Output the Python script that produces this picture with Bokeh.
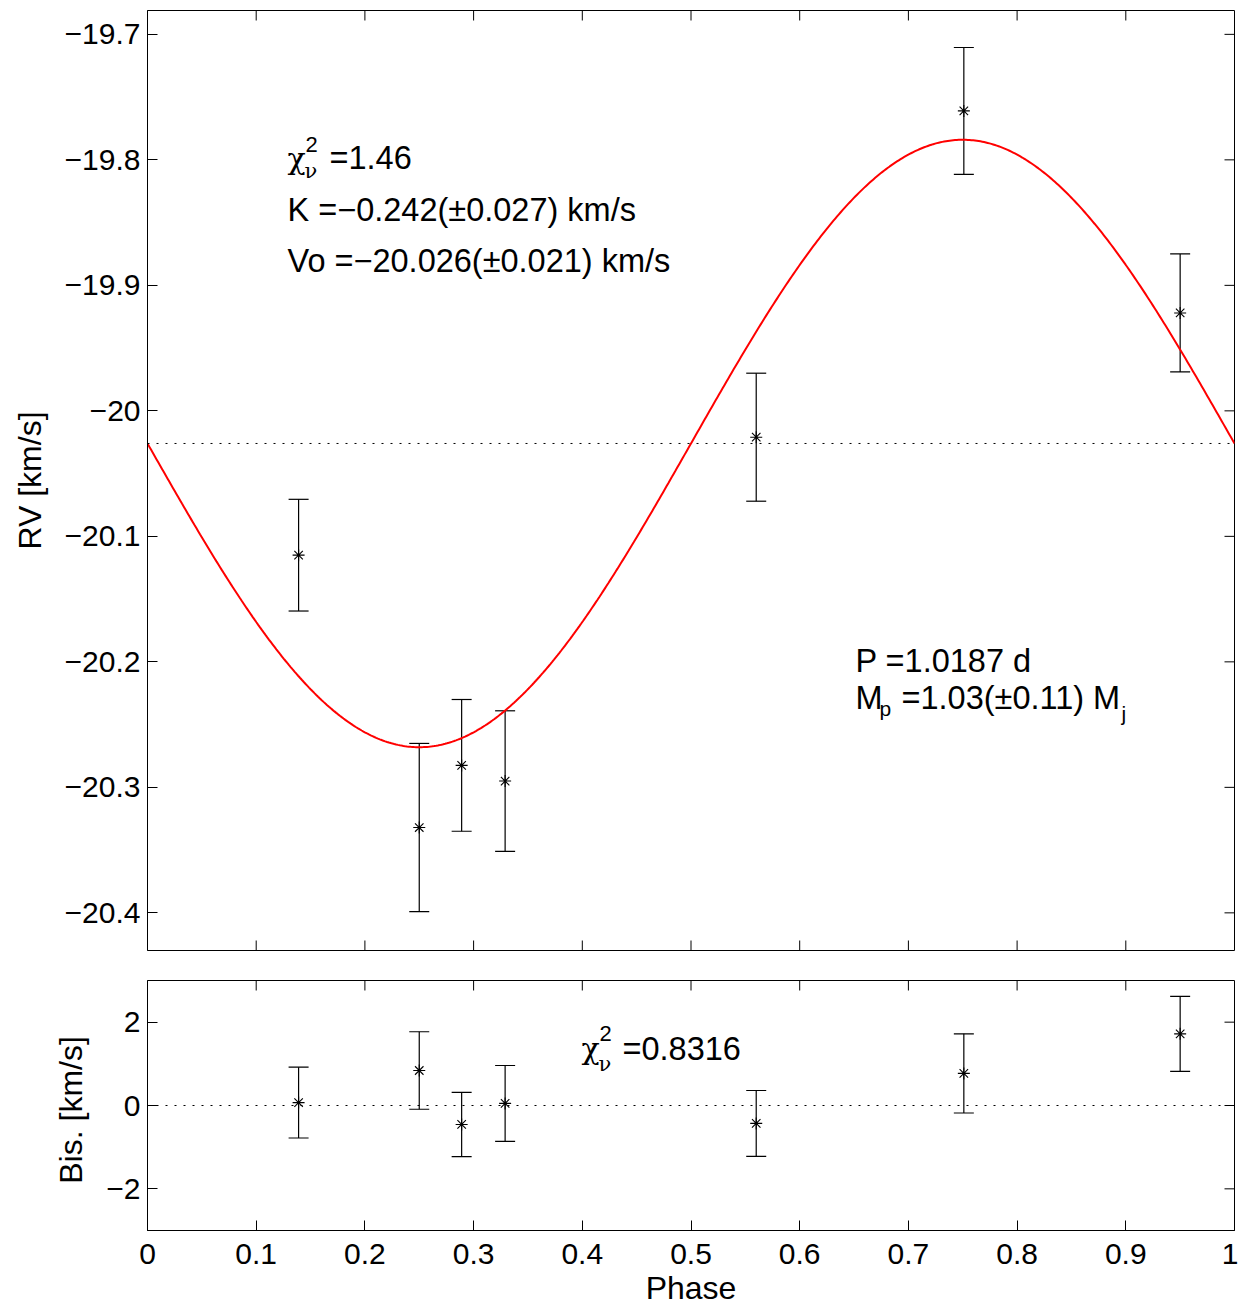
import numpy as np
from bokeh.plotting import figure
from bokeh.models import (ColumnDataSource, Whisker, Span, Label, LinearAxis,
                          FixedTicker, Range1d, TeeHead)
from bokeh.layouts import column
from bokeh.embed import file_html
from bokeh.resources import INLINE

# ---------------- data ----------------
phase = [0.139, 0.250, 0.289, 0.329, 0.560, 0.751, 0.950]
rv = [-20.115, -20.332, -20.2825, -20.295, -20.021, -19.761, -19.922]
rv_err = [0.0445, 0.067, 0.0525, 0.056, 0.051, 0.0505, 0.047]
bis = [0.07, 0.84, -0.455, 0.05, -0.43, 0.77, 1.72]
bis_err = [0.85, 0.93, 0.77, 0.91, 0.79, 0.95, 0.90]

K = -0.242          # km/s
V0 = -20.026        # km/s

x_ticks = [0, 0.1, 0.2, 0.3, 0.4, 0.5, 0.6, 0.7, 0.8, 0.9, 1]
x_tick_labels = ["0", "0.1", "0.2", "0.3", "0.4", "0.5", "0.6", "0.7", "0.8", "0.9", "1"]
rv_ticks = [-20.4, -20.3, -20.2, -20.1, -20.0, -19.9, -19.8, -19.7]
rv_tick_labels = ["\u221220.4", "\u221220.3", "\u221220.2", "\u221220.1", "\u221220",
                  "\u221219.9", "\u221219.8", "\u221219.7"]
bis_ticks = [-2, 0, 2]
bis_tick_labels = ["\u22122", "0", "2"]

# fitted model curve: RV = V0 + K sin(2 pi phase)
model_phase = np.linspace(0, 1, 600)
model_rv = V0 + K * np.sin(2 * np.pi * model_phase)

SANS = "Liberation Sans"
GREEK = "DejaVu Serif"
TICK_FS = "30px"
LAB_FS = "32px"
ANN_FS = "32.5px"
SUB_FS = "21px"
SUP_FS = "22px"

FRAME_W = 1087
TOP_H = 940
BOT_H = 250
X_RANGE = (0, 1)
RV_RANGE = (-20.430, -19.681)
BIS_RANGE = (-3, 3)
TICK_PX = 10


def style_axis(ax, ticks, labels):
    ax.ticker = FixedTicker(ticks=ticks)
    ax.major_tick_in = TICK_PX
    ax.major_tick_out = 0
    ax.minor_tick_in = 0
    ax.minor_tick_out = 0
    ax.axis_line_color = "black"
    ax.axis_line_width = 1
    ax.major_tick_line_color = "black"
    ax.major_tick_line_width = 1
    ax.major_label_text_font = SANS
    ax.major_label_text_color = "black"
    ax.major_label_text_font_size = TICK_FS
    ax.major_label_overrides = {t: l for t, l in zip(ticks, labels)}
    ax.axis_label_text_font = SANS
    ax.axis_label_text_font_style = "normal"
    ax.axis_label_text_font_size = LAB_FS
    ax.axis_label_text_color = "black"


def make_fig(frame_h, y_range, top_border, bottom_border):
    p = figure(frame_width=FRAME_W, frame_height=frame_h, x_range=Range1d(*X_RANGE),
               y_range=Range1d(*y_range), output_backend="svg", toolbar_location=None,
               x_axis_location=None, y_axis_location=None,
               min_border_left=147, min_border_right=4,
               min_border_top=top_border, min_border_bottom=bottom_border)
    p.grid.visible = False
    p.outline_line_color = "black"
    p.outline_line_width = 1
    p.background_fill_color = "white"
    p.border_fill_color = "white"
    return p


def box_ticks(p, frame_h, y_range, y_ticks, bottom_side):
    """Inward tick marks on the top, right (and optionally bottom) frame edges."""
    lx = TICK_PX * (X_RANGE[1] - X_RANGE[0]) / FRAME_W
    ly = TICK_PX * (y_range[1] - y_range[0]) / frame_h
    inner = [t for t in x_ticks if X_RANGE[0] < t < X_RANGE[1]]
    x0, y0, x1, y1 = [], [], [], []
    for t in inner:
        x0 += [t]; x1 += [t]; y0 += [y_range[1]]; y1 += [y_range[1] - ly]
        if bottom_side:
            x0 += [t]; x1 += [t]; y0 += [y_range[0]]; y1 += [y_range[0] + ly]
    for t in y_ticks:
        x0 += [X_RANGE[1]]; x1 += [X_RANGE[1] - lx]; y0 += [t]; y1 += [t]
    p.segment(x0, y0, x1, y1, line_color="black", line_width=1)


def add_text(p, conv, px, py, text, font=SANS, size=ANN_FS):
    x, y = conv(px, py)
    p.add_layout(Label(x=x, y=y, text=text, text_font=font, text_font_size=size,
                       text_color="black", text_baseline="alphabetic",
                       text_align="left"))


def errorbars(p, xs, ys, errs):
    src = ColumnDataSource(dict(x=xs, y=ys,
                                upper=[v + e for v, e in zip(ys, errs)],
                                lower=[v - e for v, e in zip(ys, errs)]))
    p.add_layout(Whisker(source=src, base="x", upper="upper", lower="lower",
                         line_color="black", line_width=1.2,
                         upper_head=TeeHead(size=20, line_color="black", line_width=1.2),
                         lower_head=TeeHead(size=20, line_color="black", line_width=1.2)))
    p.scatter("x", "y", source=src, marker="asterisk", size=12,
              line_color="black", line_width=1.1)


# ---------------- top panel ----------------
p1 = make_fig(TOP_H, RV_RANGE, 10, 15)
ax_l = LinearAxis(axis_label="RV [km/s]")
style_axis(ax_l, rv_ticks, rv_tick_labels)
ax_l.major_label_standoff = 7
ax_l.axis_label_standoff = 14
p1.add_layout(ax_l, "left")
box_ticks(p1, TOP_H, RV_RANGE, rv_ticks, bottom_side=True)

p1.add_layout(Span(location=V0, dimension="width", line_color="black",
                   line_width=1, line_dash="2 7"))
p1.line(model_phase, model_rv, line_color="#ff0000", line_width=2)
errorbars(p1, phase, rv, rv_err)


def px_top(px, py):
    return (px - 147) / 1087, -19.7 - (py - 34) / 1255


add_text(p1, px_top, 287, 158, "\u03c7", font=GREEK, size="30px")
add_text(p1, px_top, 305, 144, "2", size=SUP_FS)
add_text(p1, px_top, 304, 171, "\u03bd", font=GREEK, size=SUB_FS)
add_text(p1, px_top, 329, 158, "=1.46")
add_text(p1, px_top, 287, 210, "K =\u22120.242(\u00b10.027) km/s")
add_text(p1, px_top, 287, 261, "Vo =\u221220.026(\u00b10.021) km/s")
add_text(p1, px_top, 855, 661, "P =1.0187 d")
add_text(p1, px_top, 855, 698, "M")
add_text(p1, px_top, 879, 708, "p", size=SUB_FS)
add_text(p1, px_top, 901, 698, "=1.03(\u00b10.11) M")
add_text(p1, px_top, 1121, 713, "j", size=SUB_FS)

# ---------------- bottom panel ----------------
p2 = make_fig(BOT_H, BIS_RANGE, 15, 10)
bx_l = LinearAxis(axis_label="Bis.  [km/s]")
style_axis(bx_l, bis_ticks, bis_tick_labels)
bx_l.major_label_standoff = 7
bx_l.axis_label_standoff = 14
p2.add_layout(bx_l, "left")
bx_b = LinearAxis(axis_label="Phase")
style_axis(bx_b, x_ticks, x_tick_labels)
bx_b.major_label_standoff = 13
bx_b.axis_label_standoff = 3
p2.add_layout(bx_b, "below")
box_ticks(p2, BOT_H, BIS_RANGE, bis_ticks, bottom_side=False)

p2.add_layout(Span(location=0, dimension="width", line_color="black",
                   line_width=1, line_dash="2 7"))
errorbars(p2, phase, bis, bis_err)


def px_bot(px, py):
    return (px - 147) / 1087, (1106 - py) / 41.75


add_text(p2, px_bot, 581, 1049, "\u03c7", font=GREEK, size="30px")
add_text(p2, px_bot, 599, 1034, "2", size=SUP_FS)
add_text(p2, px_bot, 598, 1064, "\u03bd", font=GREEK, size=SUB_FS)
add_text(p2, px_bot, 622, 1049, "=0.8316")

layout = column(p1, p2, spacing=0)
open("out.html", "w").write(file_html(layout, INLINE))
